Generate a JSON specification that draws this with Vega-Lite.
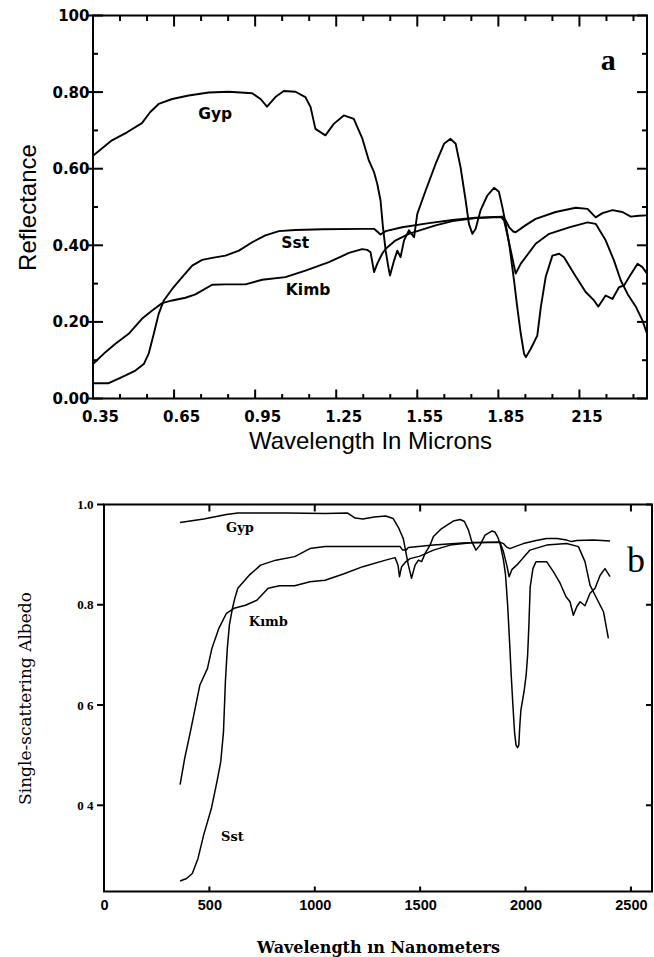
{
"$schema": "https://vega.github.io/schema/vega-lite/v6.json",
"background": "white",
"padding": {"left": 14, "top": 7.5, "right": 0, "bottom": 0},
"config": {
  "view": {"stroke": "#000", "strokeWidth": 2},
  "axis": {"domain": false, "grid": false, "ticks": false, "labelColor": "#000", "titleColor": "#000", "labelFlush": false, "labelOverlap": false},
  "point": {"filled": false, "color": "#000", "stroke": "#000", "strokeWidth": 2, "opacity": 1, "strokeOpacity": 1, "strokeCap": "butt"}
},
"spacing": 43,
"vconcat": [
 {"spacing": 0, "hconcat": [
 {"width": 1, "height": 1, "view": {"stroke": null}, "data": {"values": [{"t": ""}]}, "mark": {"type": "text"}, "encoding": {"text": {"field": "t"}}},
 {
  "width": 554, "height": 383,
  "resolve": {"axis": {"x": "independent", "y": "independent"}},
  "layer": [
   {
    "data": {"name": "a"},
    "mark": {"type": "line", "stroke": "#000", "strokeWidth": 1.9, "strokeJoin": "round"},
    "encoding": {
      "detail": {"field": "s"},
      "x": {"field": "x", "type": "quantitative", "scale": {"domain": [0.35, 2.4], "nice": false, "zero": false},
        "axis": {"orient": "bottom", "values": [0.35,0.65,0.95,1.25,1.55,1.85,2.15], "labelPadding": 11, "labelOffset": 7, "labelFont": "DejaVu Sans", "labelFontWeight": "bold", "labelFontSize": 15, "labelExpr": "abs(datum.value-2.15)<0.001 ? '215' : format(datum.value,'.2f')", "title": "Wavelength In Microns", "titleFont": "Liberation Sans", "titleFontSize": 24, "titleFontWeight": "normal", "titlePadding": 5}},
      "y": {"field": "y", "type": "quantitative", "scale": {"domain": [0, 1], "nice": false, "zero": false},
        "axis": {"orient": "left", "values": [0,0.2,0.4,0.6,0.8,1], "labelPadding": 4, "labelFont": "DejaVu Sans", "labelFontWeight": "bold", "labelFontSize": 15, "labelExpr": "datum.value > 0.99 ? '100' : format(datum.value,'.2f')", "title": "Reflectance", "titleFont": "Liberation Sans", "titleFontSize": 24, "titleFontWeight": "normal", "titlePadding": 11}}
    }
   },
   {
    "data": {"name": "la"},
    "mark": {"type": "text", "font": "DejaVu Sans", "fontWeight": "bold", "fontSize": 15.5, "align": "center", "baseline": "middle", "color": "#000"},
    "encoding": {
      "text": {"field": "t"},
      "x": {"field": "x", "type": "quantitative", "scale": {"domain": [0.35, 2.4], "nice": false, "zero": false}, "axis": null},
      "y": {"field": "y", "type": "quantitative", "scale": {"domain": [0, 1], "nice": false, "zero": false}, "axis": null}
    }
   },
   {
    "data": {"name": "ta"},
    "mark": {"type": "text", "font": "Liberation Serif", "fontWeight": "bold", "fontSize": 30, "align": "center", "baseline": "middle", "color": "#000"},
    "encoding": {
      "text": {"field": "t"},
      "x": {"field": "x", "type": "quantitative", "scale": {"domain": [0.35, 2.4], "nice": false, "zero": false}, "axis": null},
      "y": {"field": "y", "type": "quantitative", "scale": {"domain": [0, 1], "nice": false, "zero": false}, "axis": null}
    }
   },
   {
    "data": {"name": "axM"},
    "mark": {"type": "point", "shape": "M0,0L0,-2", "size": 81},
    "encoding": {
      "x": {"field": "v", "type": "quantitative", "scale": {"domain": [0.35, 2.4], "nice": false, "zero": false}, "axis": null},
      "y": {"datum": 0, "type": "quantitative", "scale": {"domain": [0, 1], "nice": false, "zero": false}, "axis": null}
    }
   },
   {
    "data": {"name": "axm"},
    "mark": {"type": "point", "shape": "M0,0L0,-2", "size": 20},
    "encoding": {
      "x": {"field": "v", "type": "quantitative", "scale": {"domain": [0.35, 2.4], "nice": false, "zero": false}, "axis": null},
      "y": {"datum": 0, "type": "quantitative", "scale": {"domain": [0, 1], "nice": false, "zero": false}, "axis": null}
    }
   },
   {
    "data": {"name": "axM"},
    "mark": {"type": "point", "shape": "M0,0L0,2", "size": 121},
    "encoding": {
      "x": {"field": "v", "type": "quantitative", "scale": {"domain": [0.35, 2.4], "nice": false, "zero": false}, "axis": null},
      "y": {"datum": 1, "type": "quantitative", "scale": {"domain": [0, 1], "nice": false, "zero": false}, "axis": null}
    }
   },
   {
    "data": {"name": "axm"},
    "mark": {"type": "point", "shape": "M0,0L0,2", "size": 30},
    "encoding": {
      "x": {"field": "v", "type": "quantitative", "scale": {"domain": [0.35, 2.4], "nice": false, "zero": false}, "axis": null},
      "y": {"datum": 1, "type": "quantitative", "scale": {"domain": [0, 1], "nice": false, "zero": false}, "axis": null}
    }
   },
   {
    "data": {"name": "ayM"},
    "mark": {"type": "point", "shape": "M-1.4,0L2,0", "size": 100},
    "encoding": {
      "x": {"datum": 0.35, "type": "quantitative", "scale": {"domain": [0.35, 2.4], "nice": false, "zero": false}, "axis": null},
      "y": {"field": "v", "type": "quantitative", "scale": {"domain": [0, 1], "nice": false, "zero": false}, "axis": null}
    }
   },
   {
    "data": {"name": "aym"},
    "mark": {"type": "point", "shape": "M0,0L2,0", "size": 25},
    "encoding": {
      "x": {"datum": 0.35, "type": "quantitative", "scale": {"domain": [0.35, 2.4], "nice": false, "zero": false}, "axis": null},
      "y": {"field": "v", "type": "quantitative", "scale": {"domain": [0, 1], "nice": false, "zero": false}, "axis": null}
    }
   },
   {
    "data": {"name": "ayM"},
    "mark": {"type": "point", "shape": "M0,0L-2,0", "size": 100},
    "encoding": {
      "x": {"datum": 2.4, "type": "quantitative", "scale": {"domain": [0.35, 2.4], "nice": false, "zero": false}, "axis": null},
      "y": {"field": "v", "type": "quantitative", "scale": {"domain": [0, 1], "nice": false, "zero": false}, "axis": null}
    }
   },
   {
    "data": {"name": "aym"},
    "mark": {"type": "point", "shape": "M0,0L-2,0", "size": 25},
    "encoding": {
      "x": {"datum": 2.4, "type": "quantitative", "scale": {"domain": [0.35, 2.4], "nice": false, "zero": false}, "axis": null},
      "y": {"field": "v", "type": "quantitative", "scale": {"domain": [0, 1], "nice": false, "zero": false}, "axis": null}
    }
   }
  ]
 }]},
 {"spacing": 0, "hconcat": [
 {"width": 1, "height": 1, "view": {"stroke": null}, "data": {"values": [{"t": ""}]}, "mark": {"type": "text"}, "encoding": {"text": {"field": "t"}}},
 {
  "width": 548, "height": 387,
  "resolve": {"axis": {"x": "independent", "y": "independent"}},
  "layer": [
   {
    "data": {"name": "b"},
    "mark": {"type": "line", "stroke": "#000", "strokeWidth": 1.5, "strokeJoin": "round"},
    "encoding": {
      "detail": {"field": "s"},
      "x": {"field": "x", "type": "quantitative", "scale": {"domain": [0, 2600], "nice": false, "zero": false},
        "axis": {"orient": "bottom", "values": [0,500,1000,1500,2000,2500], "labelPadding": 7, "labelFont": "Liberation Sans", "labelFontWeight": "bold", "labelFontSize": 14.5, "format": "d", "title": "Wavelength ın Nanometers", "titleFont": "DejaVu Serif", "titleFontSize": 16, "titleFontWeight": "bold", "titlePadding": 27}},
      "y": {"field": "y", "type": "quantitative", "scale": {"domain": [0.228, 1], "nice": false, "zero": false},
        "axis": {"orient": "left", "values": [0.4,0.6,0.8,1], "labelPadding": 11, "labelFont": "Liberation Serif", "labelFontWeight": "bold", "labelFontSize": 13, "labelExpr": "datum.value < 0.5 ? '0 4' : datum.value < 0.7 ? '0 6' : format(datum.value,'.1f')", "title": "Single-scattering Albedo", "titleFont": "DejaVu Serif", "titleFontSize": 17, "titleFontWeight": "normal", "titlePadding": 42}}
    }
   },
   {
    "data": {"name": "lb"},
    "mark": {"type": "text", "font": "DejaVu Serif", "fontWeight": "bold", "fontSize": 13, "align": "center", "baseline": "middle", "color": "#000"},
    "encoding": {
      "text": {"field": "t"},
      "x": {"field": "x", "type": "quantitative", "scale": {"domain": [0, 2600], "nice": false, "zero": false}, "axis": null},
      "y": {"field": "y", "type": "quantitative", "scale": {"domain": [0.228, 1], "nice": false, "zero": false}, "axis": null}
    }
   },
   {
    "data": {"name": "tb"},
    "mark": {"type": "text", "font": "Liberation Serif", "fontSize": 36, "align": "center", "baseline": "middle", "color": "#000"},
    "encoding": {
      "text": {"field": "t"},
      "x": {"field": "x", "type": "quantitative", "scale": {"domain": [0, 2600], "nice": false, "zero": false}, "axis": null},
      "y": {"field": "y", "type": "quantitative", "scale": {"domain": [0.228, 1], "nice": false, "zero": false}, "axis": null}
    }
   },
   {
    "data": {"name": "bx"},
    "mark": {"type": "point", "shape": "M0,0L0,2", "size": 49},
    "encoding": {
      "x": {"field": "v", "type": "quantitative", "scale": {"domain": [0, 2600], "nice": false, "zero": false}, "axis": null},
      "y": {"datum": 1, "type": "quantitative", "scale": {"domain": [0.228, 1], "nice": false, "zero": false}, "axis": null}
    }
   },
   {
    "data": {"name": "bx"},
    "mark": {"type": "point", "shape": "M0,0L0,-2", "size": 25},
    "encoding": {
      "x": {"field": "v", "type": "quantitative", "scale": {"domain": [0, 2600], "nice": false, "zero": false}, "axis": null},
      "y": {"datum": 0.228, "type": "quantitative", "scale": {"domain": [0.228, 1], "nice": false, "zero": false}, "axis": null}
    }
   },
   {
    "data": {"name": "by"},
    "mark": {"type": "point", "shape": "M0,0L-2,0", "size": 49},
    "encoding": {
      "x": {"datum": 0, "type": "quantitative", "scale": {"domain": [0, 2600], "nice": false, "zero": false}, "axis": null},
      "y": {"field": "v", "type": "quantitative", "scale": {"domain": [0.228, 1], "nice": false, "zero": false}, "axis": null}
    }
   },
   {
    "data": {"name": "by"},
    "mark": {"type": "point", "shape": "M0,0L-2,0", "size": 36},
    "encoding": {
      "x": {"datum": 2600, "type": "quantitative", "scale": {"domain": [0, 2600], "nice": false, "zero": false}, "axis": null},
      "y": {"field": "v", "type": "quantitative", "scale": {"domain": [0.228, 1], "nice": false, "zero": false}, "axis": null}
    }
   }
  ]
 }]}
],
"datasets": {
 "axM": [{"v":0.35},{"v":0.65},{"v":0.95},{"v":1.25},{"v":1.55},{"v":1.85},{"v":2.15}],
 "axm": [{"v":0.45},{"v":0.55},{"v":0.75},{"v":0.85},{"v":1.05},{"v":1.15},{"v":1.35},{"v":1.45},{"v":1.65},{"v":1.75},{"v":1.95},{"v":2.05},{"v":2.25},{"v":2.35}],
 "ayM": [{"v":0},{"v":0.2},{"v":0.4},{"v":0.6},{"v":0.8},{"v":1}],
 "aym": [{"v":0.1},{"v":0.3},{"v":0.5},{"v":0.7},{"v":0.9}],
 "bx": [{"v":500},{"v":1000},{"v":1500},{"v":2000},{"v":2500}],
 "by": [{"v":0.4},{"v":0.6},{"v":0.8},{"v":1}],
 "la": [{"t":"Gyp","x":0.802,"y":0.744},{"t":"Sst","x":1.098,"y":0.405},{"t":"Kimb","x":1.146,"y":0.282}],
 "ta": [{"t":"a","x":2.257,"y":0.88}],
 "lb": [{"t":"Gyp","x":645,"y":0.954},{"t":"Kımb","x":780,"y":0.766},{"t":"Sst","x":609,"y":0.337}],
 "tb": [{"t":"b","x":2524,"y":0.888}],
 "a": [
  {"s":"Gyp","x":0.35,"y":0.634},{"s":"Gyp","x":0.42,"y":0.674},{"s":"Gyp","x":0.476,"y":0.695},{"s":"Gyp","x":0.531,"y":0.719},{"s":"Gyp","x":0.562,"y":0.748},{"s":"Gyp","x":0.593,"y":0.769},{"s":"Gyp","x":0.643,"y":0.782},{"s":"Gyp","x":0.704,"y":0.791},{"s":"Gyp","x":0.778,"y":0.799},{"s":"Gyp","x":0.853,"y":0.801},{"s":"Gyp","x":0.939,"y":0.797},{"s":"Gyp","x":0.97,"y":0.782},{"s":"Gyp","x":0.994,"y":0.762},{"s":"Gyp","x":1.025,"y":0.787},{"s":"Gyp","x":1.056,"y":0.803},{"s":"Gyp","x":1.099,"y":0.801},{"s":"Gyp","x":1.136,"y":0.787},{"s":"Gyp","x":1.155,"y":0.761},{"s":"Gyp","x":1.173,"y":0.704},{"s":"Gyp","x":1.21,"y":0.687},{"s":"Gyp","x":1.241,"y":0.717},{"s":"Gyp","x":1.278,"y":0.739},{"s":"Gyp","x":1.315,"y":0.73},{"s":"Gyp","x":1.346,"y":0.68},{"s":"Gyp","x":1.371,"y":0.621},{"s":"Gyp","x":1.39,"y":0.591},{"s":"Gyp","x":1.402,"y":0.56},{"s":"Gyp","x":1.414,"y":0.517},{"s":"Gyp","x":1.423,"y":0.447},{"s":"Gyp","x":1.433,"y":0.386},{"s":"Gyp","x":1.443,"y":0.343},{"s":"Gyp","x":1.449,"y":0.321},{"s":"Gyp","x":1.464,"y":0.36},{"s":"Gyp","x":1.476,"y":0.386},{"s":"Gyp","x":1.488,"y":0.369},{"s":"Gyp","x":1.501,"y":0.413},{"s":"Gyp","x":1.519,"y":0.439},{"s":"Gyp","x":1.538,"y":0.421},{"s":"Gyp","x":1.55,"y":0.482},{"s":"Gyp","x":1.581,"y":0.543},{"s":"Gyp","x":1.618,"y":0.613},{"s":"Gyp","x":1.649,"y":0.665},{"s":"Gyp","x":1.673,"y":0.678},{"s":"Gyp","x":1.692,"y":0.665},{"s":"Gyp","x":1.71,"y":0.604},{"s":"Gyp","x":1.729,"y":0.517},{"s":"Gyp","x":1.741,"y":0.456},{"s":"Gyp","x":1.754,"y":0.43},{"s":"Gyp","x":1.766,"y":0.443},{"s":"Gyp","x":1.784,"y":0.491},{"s":"Gyp","x":1.809,"y":0.53},{"s":"Gyp","x":1.834,"y":0.55},{"s":"Gyp","x":1.852,"y":0.54},{"s":"Gyp","x":1.865,"y":0.499},{"s":"Gyp","x":1.877,"y":0.456},{"s":"Gyp","x":1.89,"y":0.404},{"s":"Gyp","x":1.908,"y":0.308},{"s":"Gyp","x":1.92,"y":0.238},{"s":"Gyp","x":1.933,"y":0.169},{"s":"Gyp","x":1.945,"y":0.117},{"s":"Gyp","x":1.952,"y":0.108},{"s":"Gyp","x":1.97,"y":0.13},{"s":"Gyp","x":1.994,"y":0.164},{"s":"Gyp","x":2.007,"y":0.238},{"s":"Gyp","x":2.025,"y":0.317},{"s":"Gyp","x":2.05,"y":0.373},{"s":"Gyp","x":2.075,"y":0.378},{"s":"Gyp","x":2.093,"y":0.369},{"s":"Gyp","x":2.13,"y":0.326},{"s":"Gyp","x":2.173,"y":0.278},{"s":"Gyp","x":2.204,"y":0.256},{"s":"Gyp","x":2.22,"y":0.24},{"s":"Gyp","x":2.247,"y":0.269},{"s":"Gyp","x":2.272,"y":0.26},{"s":"Gyp","x":2.297,"y":0.291},{"s":"Gyp","x":2.315,"y":0.295},{"s":"Gyp","x":2.334,"y":0.317},{"s":"Gyp","x":2.365,"y":0.352},{"s":"Gyp","x":2.383,"y":0.343},{"s":"Gyp","x":2.4,"y":0.326},
  {"s":"Sst","x":0.35,"y":0.04},{"s":"Sst","x":0.408,"y":0.04},{"s":"Sst","x":0.457,"y":0.056},{"s":"Sst","x":0.507,"y":0.073},{"s":"Sst","x":0.538,"y":0.09},{"s":"Sst","x":0.556,"y":0.117},{"s":"Sst","x":0.575,"y":0.169},{"s":"Sst","x":0.593,"y":0.221},{"s":"Sst","x":0.612,"y":0.256},{"s":"Sst","x":0.643,"y":0.286},{"s":"Sst","x":0.68,"y":0.317},{"s":"Sst","x":0.717,"y":0.347},{"s":"Sst","x":0.754,"y":0.362},{"s":"Sst","x":0.791,"y":0.367},{"s":"Sst","x":0.84,"y":0.373},{"s":"Sst","x":0.89,"y":0.386},{"s":"Sst","x":0.939,"y":0.408},{"s":"Sst","x":0.988,"y":0.426},{"s":"Sst","x":1.038,"y":0.437},{"s":"Sst","x":1.099,"y":0.44},{"s":"Sst","x":1.2,"y":0.442},{"s":"Sst","x":1.346,"y":0.443},{"s":"Sst","x":1.39,"y":0.443},{"s":"Sst","x":1.414,"y":0.428},{"s":"Sst","x":1.433,"y":0.437},{"s":"Sst","x":1.494,"y":0.447},{"s":"Sst","x":1.593,"y":0.458},{"s":"Sst","x":1.68,"y":0.466},{"s":"Sst","x":1.766,"y":0.472},{"s":"Sst","x":1.865,"y":0.475},{"s":"Sst","x":1.877,"y":0.465},{"s":"Sst","x":1.89,"y":0.447},{"s":"Sst","x":1.905,"y":0.436},{"s":"Sst","x":1.914,"y":0.434},{"s":"Sst","x":1.95,"y":0.452},{"s":"Sst","x":1.988,"y":0.469},{"s":"Sst","x":2.062,"y":0.487},{"s":"Sst","x":2.136,"y":0.498},{"s":"Sst","x":2.18,"y":0.495},{"s":"Sst","x":2.21,"y":0.473},{"s":"Sst","x":2.235,"y":0.484},{"s":"Sst","x":2.272,"y":0.492},{"s":"Sst","x":2.309,"y":0.487},{"s":"Sst","x":2.34,"y":0.475},{"s":"Sst","x":2.37,"y":0.477},{"s":"Sst","x":2.4,"y":0.478},
  {"s":"Kimb","x":0.35,"y":0.09},{"s":"Kimb","x":0.396,"y":0.121},{"s":"Kimb","x":0.433,"y":0.143},{"s":"Kimb","x":0.482,"y":0.169},{"s":"Kimb","x":0.531,"y":0.208},{"s":"Kimb","x":0.569,"y":0.23},{"s":"Kimb","x":0.606,"y":0.249},{"s":"Kimb","x":0.643,"y":0.256},{"s":"Kimb","x":0.692,"y":0.263},{"s":"Kimb","x":0.729,"y":0.272},{"s":"Kimb","x":0.791,"y":0.297},{"s":"Kimb","x":0.84,"y":0.298},{"s":"Kimb","x":0.914,"y":0.298},{"s":"Kimb","x":0.976,"y":0.31},{"s":"Kimb","x":1.062,"y":0.317},{"s":"Kimb","x":1.136,"y":0.334},{"s":"Kimb","x":1.223,"y":0.356},{"s":"Kimb","x":1.297,"y":0.38},{"s":"Kimb","x":1.346,"y":0.39},{"s":"Kimb","x":1.365,"y":0.388},{"s":"Kimb","x":1.377,"y":0.382},{"s":"Kimb","x":1.385,"y":0.35},{"s":"Kimb","x":1.39,"y":0.33},{"s":"Kimb","x":1.402,"y":0.352},{"s":"Kimb","x":1.42,"y":0.378},{"s":"Kimb","x":1.433,"y":0.391},{"s":"Kimb","x":1.47,"y":0.413},{"s":"Kimb","x":1.519,"y":0.43},{"s":"Kimb","x":1.55,"y":0.437},{"s":"Kimb","x":1.618,"y":0.452},{"s":"Kimb","x":1.68,"y":0.463},{"s":"Kimb","x":1.766,"y":0.471},{"s":"Kimb","x":1.86,"y":0.474},{"s":"Kimb","x":1.871,"y":0.465},{"s":"Kimb","x":1.877,"y":0.447},{"s":"Kimb","x":1.896,"y":0.386},{"s":"Kimb","x":1.914,"y":0.326},{"s":"Kimb","x":1.933,"y":0.352},{"s":"Kimb","x":1.988,"y":0.404},{"s":"Kimb","x":2.038,"y":0.43},{"s":"Kimb","x":2.112,"y":0.447},{"s":"Kimb","x":2.18,"y":0.46},{"s":"Kimb","x":2.21,"y":0.456},{"s":"Kimb","x":2.247,"y":0.413},{"s":"Kimb","x":2.278,"y":0.36},{"s":"Kimb","x":2.303,"y":0.308},{"s":"Kimb","x":2.328,"y":0.273},{"s":"Kimb","x":2.36,"y":0.238},{"s":"Kimb","x":2.383,"y":0.204},{"s":"Kimb","x":2.4,"y":0.169}
 ],
 "b": [
  {"s":"Gyp","x":361,"y":0.964},{"s":"Gyp","x":473,"y":0.971},{"s":"Gyp","x":581,"y":0.98},{"s":"Gyp","x":635,"y":0.983},{"s":"Gyp","x":869,"y":0.983},{"s":"Gyp","x":1049,"y":0.982},{"s":"Gyp","x":1156,"y":0.983},{"s":"Gyp","x":1192,"y":0.973},{"s":"Gyp","x":1228,"y":0.971},{"s":"Gyp","x":1282,"y":0.975},{"s":"Gyp","x":1336,"y":0.977},{"s":"Gyp","x":1372,"y":0.972},{"s":"Gyp","x":1396,"y":0.955},{"s":"Gyp","x":1420,"y":0.932},{"s":"Gyp","x":1444,"y":0.879},{"s":"Gyp","x":1459,"y":0.853},{"s":"Gyp","x":1476,"y":0.879},{"s":"Gyp","x":1492,"y":0.889},{"s":"Gyp","x":1507,"y":0.886},{"s":"Gyp","x":1523,"y":0.902},{"s":"Gyp","x":1547,"y":0.919},{"s":"Gyp","x":1563,"y":0.936},{"s":"Gyp","x":1602,"y":0.952},{"s":"Gyp","x":1657,"y":0.967},{"s":"Gyp","x":1690,"y":0.97},{"s":"Gyp","x":1710,"y":0.966},{"s":"Gyp","x":1729,"y":0.949},{"s":"Gyp","x":1745,"y":0.926},{"s":"Gyp","x":1765,"y":0.909},{"s":"Gyp","x":1784,"y":0.919},{"s":"Gyp","x":1808,"y":0.939},{"s":"Gyp","x":1840,"y":0.947},{"s":"Gyp","x":1855,"y":0.945},{"s":"Gyp","x":1868,"y":0.935},{"s":"Gyp","x":1879,"y":0.922},{"s":"Gyp","x":1895,"y":0.89},{"s":"Gyp","x":1905,"y":0.86},{"s":"Gyp","x":1915,"y":0.8},{"s":"Gyp","x":1925,"y":0.72},{"s":"Gyp","x":1932,"y":0.66},{"s":"Gyp","x":1940,"y":0.6},{"s":"Gyp","x":1948,"y":0.545},{"s":"Gyp","x":1955,"y":0.52},{"s":"Gyp","x":1962,"y":0.515},{"s":"Gyp","x":1968,"y":0.52},{"s":"Gyp","x":1973,"y":0.56},{"s":"Gyp","x":1978,"y":0.59},{"s":"Gyp","x":1993,"y":0.627},{"s":"Gyp","x":2003,"y":0.66},{"s":"Gyp","x":2010,"y":0.7},{"s":"Gyp","x":2016,"y":0.76},{"s":"Gyp","x":2022,"y":0.835},{"s":"Gyp","x":2035,"y":0.872},{"s":"Gyp","x":2050,"y":0.886},{"s":"Gyp","x":2100,"y":0.886},{"s":"Gyp","x":2132,"y":0.866},{"s":"Gyp","x":2164,"y":0.843},{"s":"Gyp","x":2192,"y":0.816},{"s":"Gyp","x":2211,"y":0.806},{"s":"Gyp","x":2227,"y":0.779},{"s":"Gyp","x":2243,"y":0.796},{"s":"Gyp","x":2259,"y":0.806},{"s":"Gyp","x":2282,"y":0.798},{"s":"Gyp","x":2306,"y":0.823},{"s":"Gyp","x":2330,"y":0.833},{"s":"Gyp","x":2354,"y":0.859},{"s":"Gyp","x":2377,"y":0.872},{"s":"Gyp","x":2401,"y":0.856},
  {"s":"Sst","x":361,"y":0.249},{"s":"Sst","x":392,"y":0.254},{"s":"Sst","x":419,"y":0.264},{"s":"Sst","x":446,"y":0.294},{"s":"Sst","x":473,"y":0.341},{"s":"Sst","x":509,"y":0.393},{"s":"Sst","x":536,"y":0.447},{"s":"Sst","x":554,"y":0.487},{"s":"Sst","x":567,"y":0.547},{"s":"Sst","x":576,"y":0.647},{"s":"Sst","x":585,"y":0.713},{"s":"Sst","x":595,"y":0.76},{"s":"Sst","x":608,"y":0.79},{"s":"Sst","x":620,"y":0.812},{"s":"Sst","x":635,"y":0.833},{"s":"Sst","x":689,"y":0.859},{"s":"Sst","x":743,"y":0.879},{"s":"Sst","x":815,"y":0.889},{"s":"Sst","x":905,"y":0.896},{"s":"Sst","x":977,"y":0.912},{"s":"Sst","x":1049,"y":0.916},{"s":"Sst","x":1200,"y":0.916},{"s":"Sst","x":1405,"y":0.916},{"s":"Sst","x":1417,"y":0.909},{"s":"Sst","x":1433,"y":0.909},{"s":"Sst","x":1444,"y":0.914},{"s":"Sst","x":1563,"y":0.919},{"s":"Sst","x":1700,"y":0.923},{"s":"Sst","x":1879,"y":0.925},{"s":"Sst","x":1895,"y":0.922},{"s":"Sst","x":1910,"y":0.915},{"s":"Sst","x":1926,"y":0.912},{"s":"Sst","x":1950,"y":0.916},{"s":"Sst","x":1990,"y":0.922},{"s":"Sst","x":2050,"y":0.928},{"s":"Sst","x":2100,"y":0.932},{"s":"Sst","x":2150,"y":0.932},{"s":"Sst","x":2195,"y":0.929},{"s":"Sst","x":2218,"y":0.926},{"s":"Sst","x":2243,"y":0.928},{"s":"Sst","x":2322,"y":0.929},{"s":"Sst","x":2401,"y":0.927},
  {"s":"Kimb","x":361,"y":0.441},{"s":"Kimb","x":383,"y":0.494},{"s":"Kimb","x":410,"y":0.547},{"s":"Kimb","x":455,"y":0.64},{"s":"Kimb","x":491,"y":0.673},{"s":"Kimb","x":512,"y":0.713},{"s":"Kimb","x":545,"y":0.753},{"s":"Kimb","x":581,"y":0.783},{"s":"Kimb","x":617,"y":0.793},{"s":"Kimb","x":671,"y":0.799},{"s":"Kimb","x":725,"y":0.809},{"s":"Kimb","x":779,"y":0.833},{"s":"Kimb","x":833,"y":0.838},{"s":"Kimb","x":905,"y":0.838},{"s":"Kimb","x":977,"y":0.846},{"s":"Kimb","x":1049,"y":0.849},{"s":"Kimb","x":1139,"y":0.862},{"s":"Kimb","x":1228,"y":0.876},{"s":"Kimb","x":1336,"y":0.889},{"s":"Kimb","x":1381,"y":0.894},{"s":"Kimb","x":1395,"y":0.879},{"s":"Kimb","x":1402,"y":0.856},{"s":"Kimb","x":1412,"y":0.876},{"s":"Kimb","x":1430,"y":0.885},{"s":"Kimb","x":1452,"y":0.892},{"s":"Kimb","x":1499,"y":0.897},{"s":"Kimb","x":1563,"y":0.909},{"s":"Kimb","x":1642,"y":0.919},{"s":"Kimb","x":1752,"y":0.924},{"s":"Kimb","x":1879,"y":0.924},{"s":"Kimb","x":1895,"y":0.906},{"s":"Kimb","x":1911,"y":0.879},{"s":"Kimb","x":1922,"y":0.856},{"s":"Kimb","x":1935,"y":0.87},{"s":"Kimb","x":1958,"y":0.879},{"s":"Kimb","x":2021,"y":0.909},{"s":"Kimb","x":2100,"y":0.919},{"s":"Kimb","x":2195,"y":0.922},{"s":"Kimb","x":2251,"y":0.916},{"s":"Kimb","x":2282,"y":0.886},{"s":"Kimb","x":2306,"y":0.839},{"s":"Kimb","x":2330,"y":0.819},{"s":"Kimb","x":2354,"y":0.799},{"s":"Kimb","x":2370,"y":0.786},{"s":"Kimb","x":2393,"y":0.733}
 ]
}
}
